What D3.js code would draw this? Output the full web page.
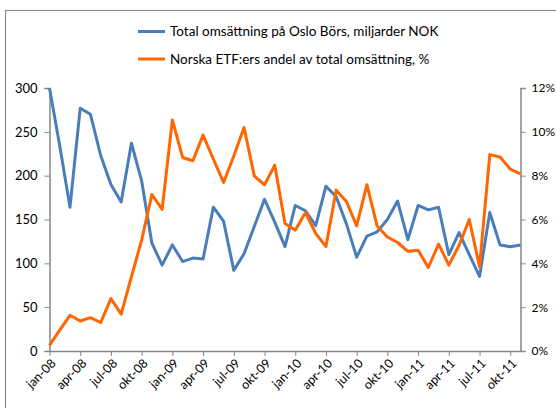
<!DOCTYPE html>
<html><head><meta charset="utf-8">
<script src="https://cdn.jsdelivr.net/npm/d3@7/dist/d3.min.js"></script>
<style>
html,body{margin:0;padding:0;background:#fff;}
svg{display:block;}
text{font-family:Lato,"Open Sans",sans-serif;fill:#000;}
</style></head>
<body>
<svg id="chart" width="556" height="408"></svg>
<script>
const months = ["jan-08","feb-08","mar-08","apr-08","maj-08","jun-08","jul-08","aug-08","sep-08","okt-08","nov-08","dec-08",
"jan-09","feb-09","mar-09","apr-09","maj-09","jun-09","jul-09","aug-09","sep-09","okt-09","nov-09","dec-09",
"jan-10","feb-10","mar-10","apr-10","maj-10","jun-10","jul-10","aug-10","sep-10","okt-10","nov-10","dec-10",
"jan-11","feb-11","mar-11","apr-11","maj-11","jun-11","jul-11","aug-11","sep-11","okt-11","nov-11"];
const turnover = [300,234,164,277,270,223,190,170,237,194,123,98,
121,102,106,105,164,148,92,111,142,173,147,119,
166,160,143,188,176,145,107,131,136,150,171,127,
166,161,164,110,135,110,85,158,121,119,121];
const etfShare = [0.26,0.95,1.63,1.37,1.52,1.30,2.39,1.68,3.38,5.06,7.14,6.46,
10.54,8.83,8.68,9.85,8.76,7.69,8.9,10.2,7.99,7.58,8.48,5.82,
5.51,6.32,5.36,4.77,7.34,6.82,5.71,7.59,5.7,5.2,4.95,4.55,
4.6,3.81,4.88,3.92,4.82,6.0,3.84,8.96,8.85,8.3,8.08];
const xTickLabels = ["jan-08","apr-08","jul-08","okt-08","jan-09","apr-09","jul-09","okt-09","jan-10","apr-10","jul-10","okt-10","jan-11","apr-11","jul-11","okt-11"];
const leftTicks = [0,50,100,150,200,250,300];
const rightTicks = [0,2,4,6,8,10,12];
const seriesNames = ["Total omsättning på Oslo Börs, miljarder NOK","Norska ETF:ers andel av total omsättning, %"];
const colors = ["#4A7EBB","#FF6600"];

const svg = d3.select("#chart");
const axisColor = "#868686";

// outer frame
svg.append("rect").attr("x",5.5).attr("y",10.5).attr("width",560).attr("height",410)
  .attr("fill","none").attr("stroke","#8c8c8c").attr("stroke-width",1.2);

const x = d3.scalePoint().domain(months).range([49.5,520.5]);
const yL = d3.scaleLinear().domain([0,300]).range([351,88]);
const yR = d3.scaleLinear().domain([0,12]).range([351,88]);

// left axis
const gL = svg.append("g").attr("transform","translate(49.5,0)")
  .call(d3.axisLeft(yL).tickValues(leftTicks).tickSize(5).tickPadding(7).tickFormat(d3.format("d")));
// right axis
const gR = svg.append("g").attr("transform","translate(520.5,0)")
  .call(d3.axisRight(yR).tickValues(rightTicks).tickSize(5).tickPadding(6).tickFormat(d=>d+"%"));
// bottom axis
const tickMonths = months.filter(m=>xTickLabels.includes(m));
const gB = svg.append("g").attr("transform","translate(0,351)")
  .call(d3.axisBottom(x).tickValues(tickMonths).tickSize(5).tickFormat(()=>""));
[gL,gR,gB].forEach(g=>{
  g.select(".domain").attr("stroke",axisColor).attr("stroke-width",1.5);
  g.selectAll(".tick line").attr("stroke",axisColor).attr("stroke-width",1);
  g.selectAll("text").attr("font-size",13).attr("font-family","Lato, 'Open Sans', sans-serif").attr("fill","#000");
});
gR.selectAll("text").attr("font-size",12);
gB.select(".domain").attr("d","M49.5,0.5H520.5");

// x tick labels, rotated
svg.append("g").selectAll("text").data(tickMonths).join("text")
  .attr("transform",d=>`translate(${x(d)+4},${361}) rotate(-45)`)
  .attr("text-anchor","end").attr("dy","0.35em")
  .attr("font-size",12.5).text(d=>d);

// lines
const lineL = d3.line().x((d,i)=>x(months[i])).y(d=>yL(d));
const lineR = d3.line().x((d,i)=>x(months[i])).y(d=>yR(d));
svg.append("path").datum(turnover).attr("d",lineL).attr("fill","none")
  .attr("stroke",colors[0]).attr("stroke-width",3).attr("stroke-linejoin","round");
svg.append("path").datum(etfShare).attr("d",lineR).attr("fill","none")
  .attr("stroke",colors[1]).attr("stroke-width",3).attr("stroke-linejoin","round");

// legend
const lg = svg.append("g");
seriesNames.forEach((s,i)=>{
  const yy = 31.5 + i*27.5;
  lg.append("line").attr("x1",138).attr("x2",165).attr("y1",yy).attr("y2",yy)
    .attr("stroke",colors[i]).attr("stroke-width",3);
  lg.append("text").attr("x",170).attr("y",yy).attr("dy","0.35em").attr("font-size",13.5).text(s);
});
</script>
</body></html>
